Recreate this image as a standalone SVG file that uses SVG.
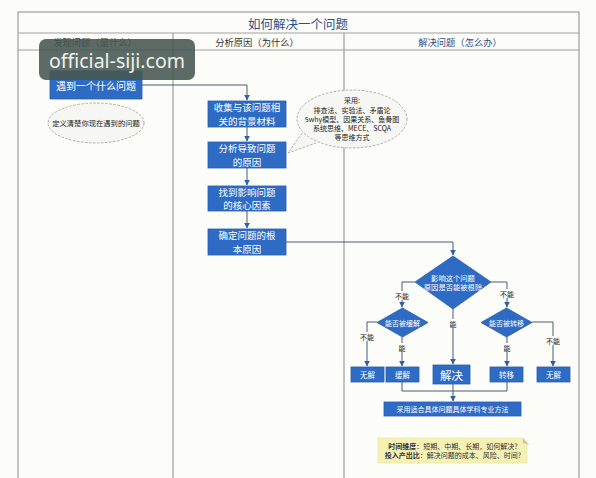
<svg xmlns="http://www.w3.org/2000/svg" width="596" height="478" viewBox="0 0 596 478">
<defs>
<style>
.t{font-family:"Noto Sans CJK SC","Noto Sans",sans-serif;}
.box{fill:#2d6bc5;stroke:#2a5fae;stroke-width:0.8;}
.bt{font-family:"Noto Sans CJK SC","Noto Sans",sans-serif;fill:#ffffff;text-anchor:middle;dominant-baseline:central;}
.lbl{font-family:"Noto Sans CJK SC","Noto Sans",sans-serif;fill:#222;font-size:7px;text-anchor:middle;dominant-baseline:central;}
.ln{fill:none;stroke:#4a5a72;stroke-width:1;}
.dash{fill:#f6f6f2;stroke:#999;stroke-width:0.8;stroke-dasharray:2.5 1.5;}
.frame{fill:none;stroke:#8a8a8a;stroke-width:1;}
</style>
<marker id="ar" viewBox="0 0 10 10" refX="9" refY="5" markerWidth="6" markerHeight="6" orient="auto" markerUnits="userSpaceOnUse">
<path d="M0,0 L10,5 L0,10 Z" fill="#2e5fa8"/>
</marker>
</defs>
<rect x="0" y="0" width="596" height="478" fill="#fcfcf8"/>
<g id="frame">
<rect x="18" y="12" width="561" height="480" class="frame" fill="#fdfdfb"/>
<line x1="18" y1="33" x2="579" y2="33" stroke="#a0a0a0" stroke-width="1"/>
<line x1="18" y1="50" x2="579" y2="50" stroke="#a0a0a0" stroke-width="1"/>
<line x1="173" y1="33" x2="173" y2="478" stroke="#8a8a8a" stroke-width="1"/>
<line x1="344" y1="33" x2="344" y2="478" stroke="#8a8a8a" stroke-width="1"/>
<text x="298" y="23" class="t" font-size="12.5" fill="#2c4f8a" text-anchor="middle" dominant-baseline="central">如何解决一个问题</text>
<text x="95" y="41.5" class="t" font-size="9.3" fill="#333" text-anchor="middle" dominant-baseline="central">发现问题（是什么）</text>
<text x="257" y="41.5" class="t" font-size="9.3" fill="#333" text-anchor="middle" dominant-baseline="central">分析原因（为什么）</text>
<text x="460" y="41.5" class="t" font-size="9.3" fill="#2c4f8a" text-anchor="middle" dominant-baseline="central">解决问题（怎么办）</text>
</g>
<g id="connectors">
<path class="ln" d="M142,85 H247 V100" marker-end="url(#ar)"/>
<path class="ln" d="M247,127 V141" marker-end="url(#ar)"/>
<path class="ln" d="M247,168 V185" marker-end="url(#ar)"/>
<path class="ln" d="M247,211 V228" marker-end="url(#ar)"/>
<path class="ln" d="M286,242 H453 V255" marker-end="url(#ar)"/>
<path class="ln" d="M415,282 H402 V307" marker-end="url(#ar)"/>
<path class="ln" d="M491,282 H507 V307" marker-end="url(#ar)"/>
<path class="ln" d="M453,309 V364" marker-end="url(#ar)"/>
<path class="ln" d="M377,322 H367 V366" marker-end="url(#ar)"/>
<path class="ln" d="M402,337 V366" marker-end="url(#ar)"/>
<path class="ln" d="M507,337 V366" marker-end="url(#ar)"/>
<path class="ln" d="M532,322 H553 V366" marker-end="url(#ar)"/>
<path class="ln" d="M402,382 V391 H507 V382"/>
<path class="ln" d="M453,384 V401" marker-end="url(#ar)"/>
<rect x="395" y="291" width="14" height="9" fill="#fdfdfb"/>
<text x="402" y="295.5" class="lbl">不能</text>
<rect x="500" y="289" width="14" height="9" fill="#fdfdfb"/>
<text x="507" y="293.5" class="lbl">不能</text>
<rect x="360" y="332" width="14" height="9" fill="#fdfdfb"/>
<text x="367" y="336.5" class="lbl">不能</text>
<rect x="546" y="336" width="14" height="9" fill="#fdfdfb"/>
<text x="553" y="340.5" class="lbl">不能</text>
<rect x="448" y="319" width="10" height="9" fill="#fdfdfb"/>
<text x="453" y="323.5" class="lbl">能</text>
<rect x="397" y="343" width="10" height="9" fill="#fdfdfb"/>
<text x="402" y="347.5" class="lbl">能</text>
<rect x="502" y="343" width="10" height="9" fill="#fdfdfb"/>
<text x="507" y="347.5" class="lbl">能</text>
</g>
<g id="n-start">
<rect x="50" y="71" width="92" height="28" class="box"/>
<text x="96" y="85" class="bt" font-size="10">遇到一个什么问题</text>
</g>
<g id="n-define">
<ellipse cx="96" cy="123" rx="48" ry="20" class="dash"/>
<text x="96" y="123" class="t" font-size="7.3" fill="#222" text-anchor="middle" dominant-baseline="central">定义清楚你现在遇到的问题</text>
</g>
<g id="n-collect">
<rect x="208" y="101" width="78" height="26" class="box"/>
<text x="247" y="107.3" class="bt" font-size="9.5">收集与该问题相</text>
<text x="247" y="120.7" class="bt" font-size="9.5">关的背景材料</text>
</g>
<g id="n-analyze">
<rect x="208" y="142" width="78" height="26" class="box"/>
<text x="247" y="148.3" class="bt" font-size="9.5">分析导致问题</text>
<text x="247" y="161.7" class="bt" font-size="9.5">的原因</text>
</g>
<g id="n-core">
<rect x="208" y="186" width="78" height="25" class="box"/>
<text x="247" y="191.8" class="bt" font-size="9.5">找到影响问题</text>
<text x="247" y="205.2" class="bt" font-size="9.5">的核心因素</text>
</g>
<g id="n-root">
<rect x="208" y="229" width="78" height="26" class="box"/>
<text x="247" y="235.3" class="bt" font-size="9.5">确定问题的根</text>
<text x="247" y="248.7" class="bt" font-size="9.5">本原因</text>
</g>
<g id="n-methods">
<path d="M302,133 L288,153 L316,143" class="dash"/>
<ellipse cx="352" cy="119" rx="55" ry="29" class="dash"/>
<g class="t" font-size="7" fill="#222" text-anchor="middle" dominant-baseline="central">
<text x="352" y="100">采用:</text>
<text x="352" y="109.5">排查法、实验法、矛盾论</text>
<text x="352" y="119">5why模型、因果关系、鱼骨图</text>
<text x="352" y="128">系统思维、MECE、SCQA</text>
<text x="352" y="137">等思维方式</text>
</g>
</g>
<g id="n-eliminate">
<polygon points="453,256 491,282 453,309 415,282" class="box"/>
<text x="453" y="278" class="bt" font-size="7.3">影响这个问题</text>
<text x="453" y="287" class="bt" font-size="7.3">原因是否能被根除</text>
</g>
<g id="n-mitigate">
<polygon points="402.5,308 428,322.5 402.5,337 377,322.5" class="box"/>
<text x="402.5" y="322.5" class="bt" font-size="7">能否被缓解</text>
</g>
<g id="n-transfer">
<polygon points="506.5,308 532,322.5 506.5,337 481,322.5" class="box"/>
<text x="506.5" y="322.5" class="bt" font-size="7">能否被转移</text>
</g>
<g id="n-nosol1">
<rect x="351" y="367" width="33" height="15" class="box"/>
<text x="367.5" y="374.5" class="bt" font-size="7.5">无解</text>
</g>
<g id="n-ease">
<rect x="386" y="367" width="33" height="15" class="box"/>
<text x="402.5" y="374.5" class="bt" font-size="7.5">缓解</text>
</g>
<g id="n-solve">
<rect x="433" y="365" width="37" height="19" class="box"/>
<text x="451.5" y="374.5" class="bt" font-size="11.5">解决</text>
</g>
<g id="n-move">
<rect x="490" y="367" width="33" height="15" class="box"/>
<text x="506.5" y="374.5" class="bt" font-size="7.5">转移</text>
</g>
<g id="n-nosol2">
<rect x="537" y="367" width="33" height="15" class="box"/>
<text x="553.5" y="374.5" class="bt" font-size="7.5">无解</text>
</g>
<g id="n-method">
<rect x="384" y="402" width="137" height="14" class="box"/>
<text x="452.5" y="409" class="bt" font-size="7">采用适合具体问题具体学科专业方法</text>
</g>
<g id="n-note">
<path d="M378,438 H523 L527,443 V463 H378 Z" fill="#f5f0b4" stroke="#e8e2a0" stroke-width="0.6"/>
<path d="M523,438 L523,443 L529,445 Z" fill="#c9c4a8"/>
<g class="t" font-size="7" fill="#333" text-anchor="middle" dominant-baseline="central">
<text x="453" y="446"><tspan font-weight="bold">时间维度</tspan>：短期、中期、长期，如何解决?</text>
<text x="453" y="455"><tspan font-weight="bold">投入产出比</tspan>：解决问题的成本、风险、时间?</text>
</g>
</g>
<g id="watermark">
<rect x="39" y="39" width="156" height="41" rx="7" fill="#465650" fill-opacity="0.88"/>
<text x="49" y="68" font-family="Noto Sans, sans-serif" font-size="19.5" fill="#eef2ee">official-siji.com</text>
</g>
</svg>
